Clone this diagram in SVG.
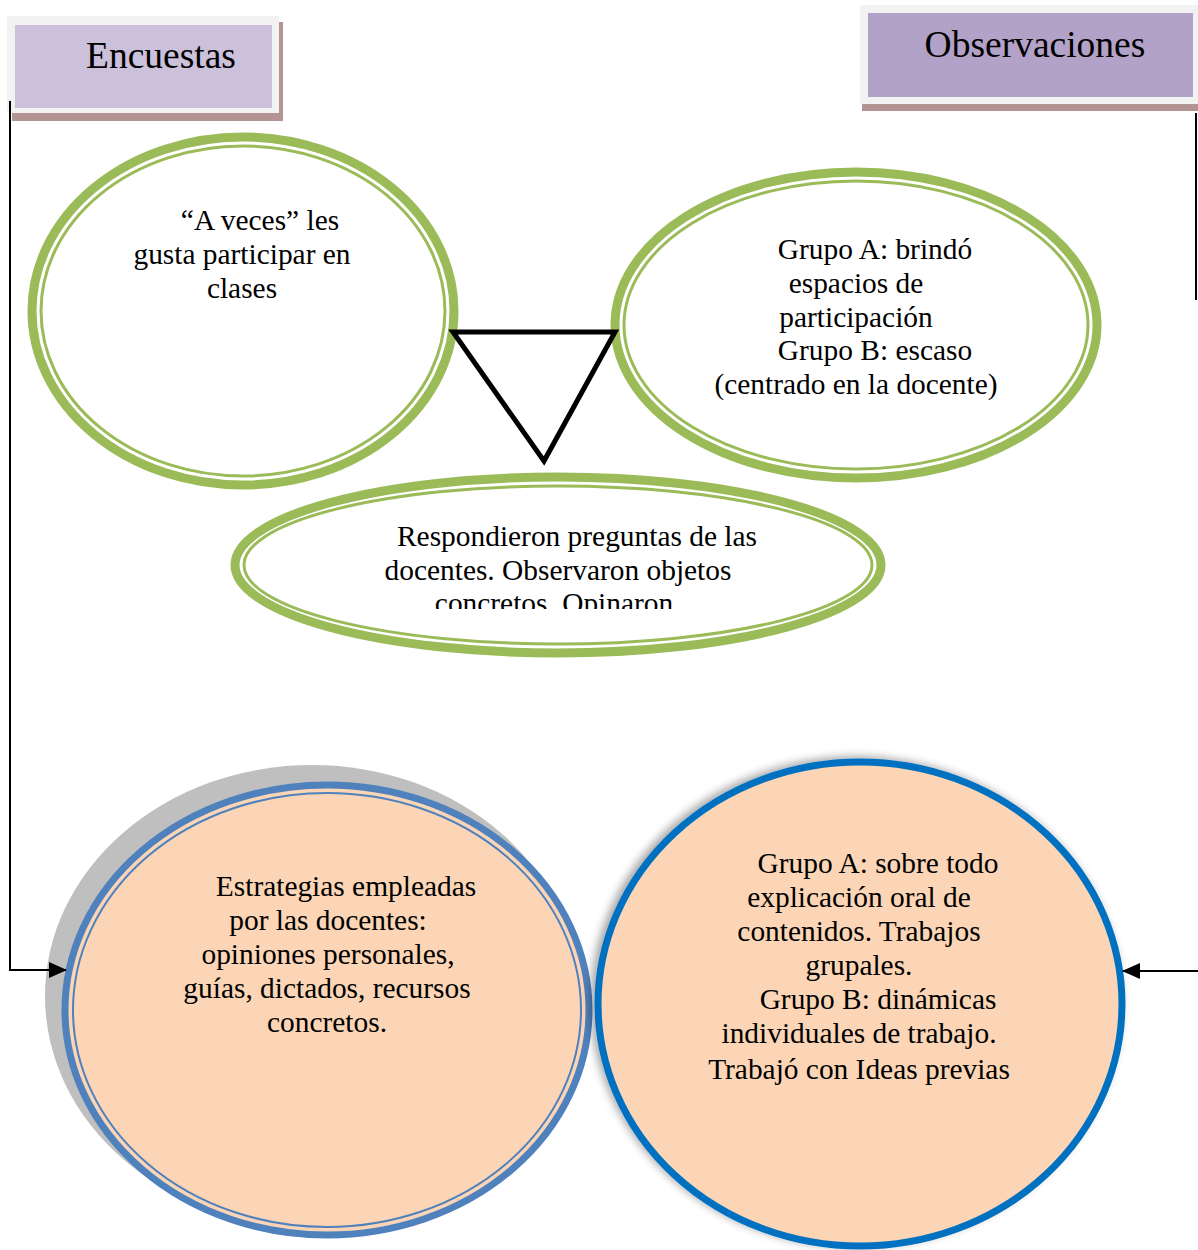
<svg xmlns="http://www.w3.org/2000/svg" width="1198" height="1250" viewBox="0 0 1198 1250">
<style>
.t{font-family:"Liberation Serif","Times New Roman",serif;font-size:29.4px;fill:#000;text-anchor:middle}
.h{font-family:"Liberation Serif","Times New Roman",serif;font-size:37.5px;fill:#000;text-anchor:middle}
.gOut{fill:#fff;stroke:#9bbb59;stroke-width:9}
.gIn{fill:none;stroke:#9bbb59;stroke-width:3}
.conn{fill:none;stroke:#000;stroke-width:2}
</style>
<defs>
<marker id="arr" markerUnits="userSpaceOnUse" markerWidth="18" markerHeight="16" refX="17" refY="8" orient="auto">
<path d="M0,0 L18,8 L0,16 z" fill="#000"/>
</marker>
<filter id="sh" x="-10%" y="-10%" width="120%" height="120%">
<feDropShadow dx="-4" dy="-2" stdDeviation="4" flood-color="#000" flood-opacity="0.35"/>
</filter>
<clipPath id="midclip"><rect x="230" y="500" width="660" height="109"/></clipPath>
</defs>

<g id="encuestas">
<rect x="12" y="22" width="271" height="99" fill="#b49393"/>
<rect x="7" y="16" width="272" height="97" fill="#f2f2f2"/>
<rect x="15" y="25" width="257" height="83" fill="#ccc1da"/>
<text class="h" x="161" y="68">Encuestas</text>
</g>

<g id="observaciones">
<rect x="862" y="12" width="336" height="99" fill="#b49393"/>
<rect x="860" y="5" width="338" height="99" fill="#f2f2f2"/>
<rect x="868" y="13" width="325" height="84" fill="#b3a2c7"/>
<text class="h" x="1035" y="57">Observaciones</text>
</g>

<g id="encuesta-respuesta">
<ellipse class="gOut" cx="243" cy="311" rx="211" ry="174"/>
<ellipse class="gIn" cx="243" cy="311" rx="202" ry="165"/>
<text class="t" x="260" y="230">“A veces” les</text>
<text class="t" x="242" y="264">gusta participar en</text>
<text class="t" x="242" y="298">clases</text>
</g>

<g id="observacion-participacion">
<ellipse class="gOut" cx="856" cy="325" rx="241" ry="153"/>
<ellipse class="gIn" cx="856" cy="325" rx="232" ry="144"/>
<text class="t" x="875" y="259">Grupo A: brindó</text>
<text class="t" x="856" y="293">espacios de</text>
<text class="t" x="856" y="327">participación</text>
<text class="t" x="875" y="360">Grupo B: escaso</text>
<text class="t" x="856" y="394">(centrado en la docente)</text>
</g>

<g id="triangulo">
<polygon points="453,332 615,332 544,461" fill="none" stroke="#000" stroke-width="5" stroke-linejoin="miter"/>
</g>

<g id="respuesta-alumnos">
<ellipse class="gOut" cx="558" cy="565" rx="323" ry="88"/>
<ellipse class="gIn" cx="558" cy="565" rx="314" ry="79"/>
<g clip-path="url(#midclip)">
<text class="t" x="577" y="546">Respondieron preguntas de las</text>
<text class="t" x="558" y="580">docentes. Observaron objetos</text>
<text class="t" x="554" y="613">concretos. Opinaron</text>
</g>
</g>

<g id="estrategias">
<ellipse cx="312" cy="996" rx="267" ry="231" fill="#bfbfbf"/>
<ellipse cx="327" cy="1010" rx="262" ry="225" fill="#fbd5b5" stroke="#4f81bd" stroke-width="7"/>
<ellipse cx="327" cy="1010" rx="254" ry="217" fill="none" stroke="#4f81bd" stroke-width="2"/>
<text class="t" x="346" y="896">Estrategias empleadas</text>
<text class="t" x="328" y="930">por las docentes:</text>
<text class="t" x="328" y="964">opiniones personales,</text>
<text class="t" x="327" y="998">guías, dictados, recursos</text>
<text class="t" x="327" y="1032">concretos.</text>
</g>

<g id="grupos">
<ellipse cx="860" cy="1004" rx="262" ry="242" fill="#fbd5b5" stroke="#0070c0" stroke-width="7" filter="url(#sh)"/>
<text class="t" x="878" y="873">Grupo A: sobre todo</text>
<text class="t" x="859" y="907">explicación oral de</text>
<text class="t" x="859" y="941">contenidos. Trabajos</text>
<text class="t" x="859" y="975">grupales.</text>
<text class="t" x="878" y="1009">Grupo B: dinámicas</text>
<text class="t" x="859" y="1043">individuales de trabajo.</text>
<text class="t" x="859" y="1079">Trabajó con Ideas previas</text>
</g>

<g id="connectors">
<path class="conn" d="M10,101 V970 H66" marker-end="url(#arr)"/>
<path class="conn" d="M1196,113 V300"/>
<path class="conn" d="M1198,971 H1123" marker-end="url(#arr)"/>
</g>
</svg>
